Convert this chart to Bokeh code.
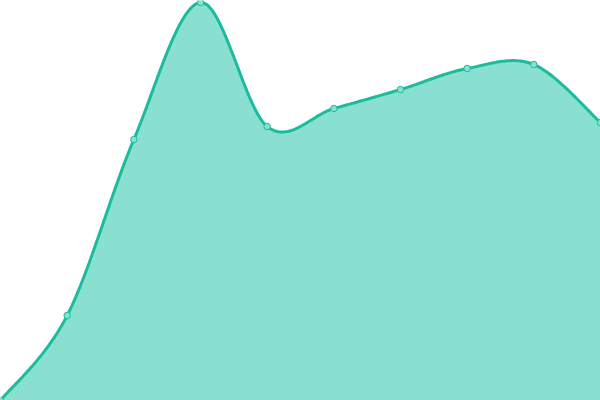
import numpy as np
from bokeh.plotting import figure
from bokeh.models import Range1d, ColumnDataSource
from bokeh.embed import file_html
from bokeh.resources import INLINE

# data
categories = list(range(10))
values = [0, 85, 261, 398, 274, 292, 311, 332, 336, 278]

LINE = "#1abc9c"
FILL = "#89e0d0"


def catmull_rom(xs, ys, n=40):
    xs = np.asarray(xs, float)
    ys = np.asarray(ys, float)
    px = np.concatenate([[xs[0]], xs, [xs[-1]]])
    py = np.concatenate([[ys[0]], ys, [ys[-1]]])
    outx, outy = [], []
    t = np.linspace(0, 1, n, endpoint=False)
    for i in range(1, len(px) - 2):
        for P, out in ((px, outx), (py, outy)):
            p0, p1, p2, p3 = P[i - 1], P[i], P[i + 1], P[i + 2]
            c = 0.5 * ((2 * p1) + (-p0 + p2) * t + (2 * p0 - 5 * p1 + 4 * p2 - p3) * t ** 2
                       + (-p0 + 3 * p1 - 3 * p2 + p3) * t ** 3)
            out.extend(c.tolist())
    outx.append(float(xs[-1]))
    outy.append(float(ys[-1]))
    return outx, outy


sx, sy = catmull_rom(categories, values)

p = figure(width=600, height=400, output_backend="svg", toolbar_location=None,
           x_range=Range1d(0, 9), y_range=Range1d(0, 400),
           min_border=0, min_border_left=0, min_border_right=0,
           min_border_top=0, min_border_bottom=0)
p.axis.visible = False
p.grid.visible = False
p.outline_line_color = None
p.background_fill_color = "white"
p.border_fill_color = "white"

curve = ColumnDataSource(dict(x=sx, y=sy, y0=[0] * len(sx)))
p.varea(x="x", y1="y0", y2="y", source=curve, fill_color=FILL, fill_alpha=1.0)
p.line(x="x", y="y", source=curve, line_color=LINE, line_width=3)
p.scatter(categories, values, size=6.5, fill_color=FILL, line_color=LINE, line_width=1)

open("out.html", "w").write(file_html(p, INLINE))
